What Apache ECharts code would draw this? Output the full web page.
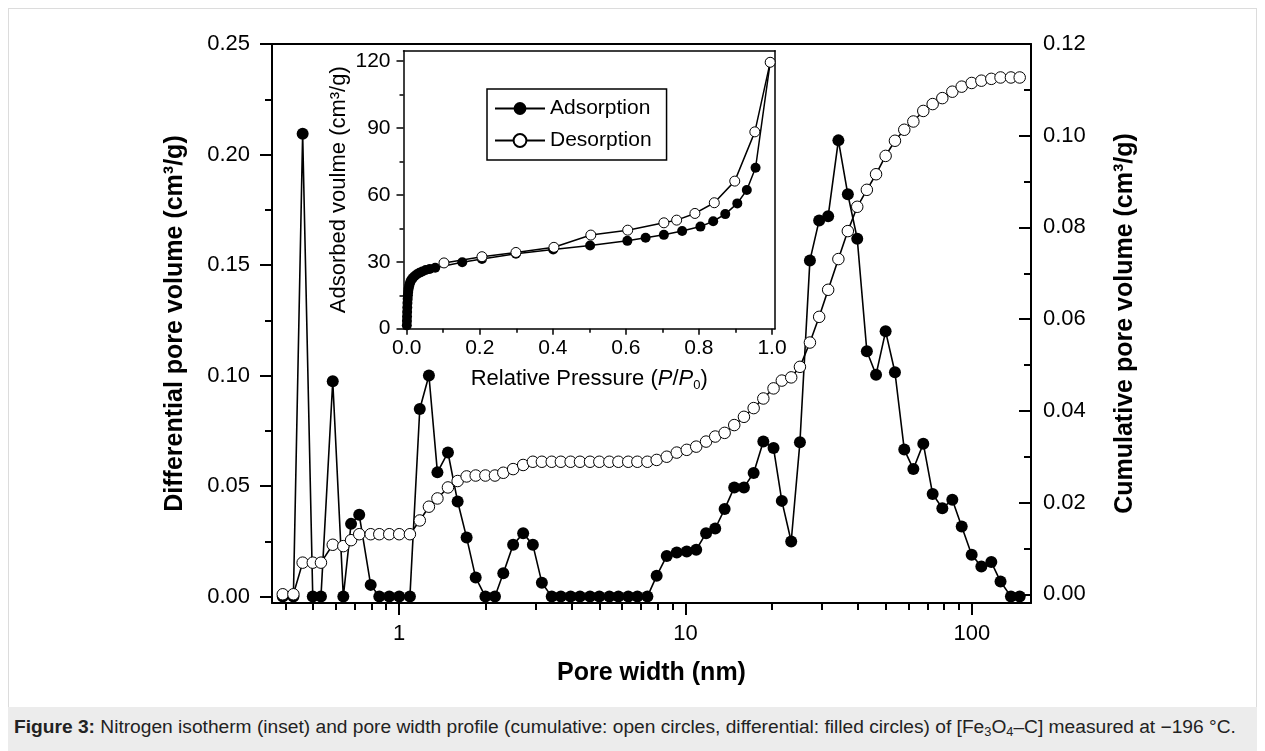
<!DOCTYPE html>
<html><head><meta charset="utf-8">
<script src="https://cdn.jsdelivr.net/npm/echarts@6/dist/echarts.min.js"></script>
<style>
html,body{margin:0;padding:0;background:#fff;width:1265px;height:751px;overflow:hidden;font-family:'Liberation Sans',Arial,sans-serif}
#frame{position:absolute;left:8px;top:8px;width:1249px;height:743px;border:1px solid #dcdcdc;border-bottom:none;box-sizing:border-box}
#band{position:absolute;left:8px;top:707px;width:1249px;height:44px;background:#ececec}
#cap{position:absolute;left:14px;top:717px;font-size:18px;color:#222;white-space:nowrap;transform:scaleX(1.065);transform-origin:0 50%}
#cap sub{font-size:12px;vertical-align:-3px;line-height:0}
#chart{position:absolute;left:0;top:0;width:1265px;height:751px}
</style></head><body>
<div id="frame"></div>
<div id="band"></div>
<div id="cap"><b>Figure 3:</b> Nitrogen isotherm (inset) and pore width profile (cumulative: open circles, differential: filled circles) of [Fe<sub>3</sub>O<sub>4</sub>–C] measured at −196 °C.</div>
<div id="chart"></div>
<script>
// ---- data (pore width in nm) ----
const poreWidth = [0.392,0.427,0.460,0.499,0.533,0.586,0.638,0.679,0.725,0.795,0.852,0.923,1.00,1.09,1.18,1.27,1.36,1.48,1.60,1.72,1.85,2.00,2.16,2.31,2.50,2.71,2.93,3.15,3.41,3.67,3.97,4.28,4.64,5.00,5.42,5.83,6.31,6.79,7.36,7.93,8.60,9.32,10.1,10.9,11.8,12.7,13.7,14.8,16.0,17.3,18.7,20.3,21.7,23.4,25.1,27.2,29.3,31.5,34.2,36.9,39.8,43.0,46.3,50.0,53.9,58.1,62.5,67.7,73.0,78.9,85.5,92.2,99.9,108,117,126,137,147];
const differential = [0,0,0.2094,0,0,0.0974,0,0.0329,0.0370,0.0053,0,0,0,0,0.0849,0.1000,0.0562,0.0652,0.0430,0.0267,0.0086,0,0,0.0106,0.0234,0.0287,0.0234,0.0063,0,0,0,0,0,0,0,0,0,0,0,0.0094,0.0184,0.0199,0.0204,0.0212,0.0287,0.0308,0.0396,0.0494,0.0494,0.0559,0.0702,0.0672,0.0433,0.0249,0.0698,0.1521,0.1702,0.1721,0.2064,0.1820,0.1619,0.1110,0.1004,0.1200,0.1015,0.0665,0.0577,0.0692,0.0464,0.0400,0.0438,0.0317,0.0189,0.0136,0.0156,0.0068,0,0];
const cumulative = [0,0,0.0069,0.0069,0.0069,0.0108,0.0105,0.0118,0.0131,0.0131,0.0131,0.0131,0.0131,0.0131,0.0161,0.0191,0.0209,0.0233,0.0247,0.0257,0.0259,0.0259,0.0259,0.0265,0.0273,0.0282,0.0289,0.0289,0.0289,0.0289,0.0289,0.0289,0.0289,0.0289,0.0289,0.0289,0.0289,0.0289,0.0289,0.0293,0.0300,0.0309,0.0315,0.0322,0.0333,0.0344,0.0352,0.0369,0.0387,0.0406,0.0427,0.0449,0.0466,0.0473,0.0496,0.0549,0.0605,0.0664,0.0731,0.0792,0.0845,0.0882,0.0916,0.0956,0.0989,0.1013,0.1031,0.1054,0.1069,0.1082,0.1096,0.1107,0.1115,0.1120,0.1124,0.1127,0.1127,0.1127];
// inset isotherm
const adsP = [0.0003,0.0006,0.0009,0.0012,0.0016,0.002,0.0026,0.0033,0.004,0.005,0.0065,0.008,0.01,0.013,0.017,0.022,0.028,0.035,0.043,0.052,0.063,0.078,0.152,0.206,0.299,0.401,0.502,0.604,0.654,0.704,0.754,0.804,0.839,0.872,0.905,0.931,0.955,0.995];
const adsV = [1.5,3.5,5.5,7.5,9.5,11.5,13.3,15,16.5,17.8,19,20,21,22,22.8,23.6,24.4,25.1,25.7,26.3,26.8,27.3,29.8,31.3,33.6,35.5,37.3,39.4,40.8,42.1,43.8,45.8,48.2,51.4,56.2,62.2,72.2,119.5];
const desP = [0.995,0.953,0.898,0.842,0.789,0.739,0.704,0.605,0.504,0.403,0.299,0.206,0.102];
const desV = [119.5,88.3,66.2,56.5,51.7,48.7,47.5,44.2,42.0,36.5,34.2,32.3,29.5];
// ticks
const mainXLabels = [1,10,100];
const mainXMinor = [0.4,0.5,0.6,0.7,0.8,0.9,2,3,4,5,6,7,8,9,20,30,40,50,60,70,80,90];
const diffTicks = [0,0.05,0.10,0.15,0.20,0.25];
const diffMinor = [0.025,0.075,0.125,0.175,0.225];
const cumTicks = [0,0.02,0.04,0.06,0.08,0.10,0.12];
const cumMinor = [0.01,0.03,0.05,0.07,0.09,0.11];
const insetXTicks = [0,0.2,0.4,0.6,0.8,1.0];
const insetXMinor = [0.1,0.3,0.5,0.7,0.9];
const insetYTicks = [0,30,60,90,120];
const insetYMinor = [15,45,75,105];

const FONT = "'Liberation Sans', Arial, sans-serif";
const BLACK = '#000';
const logs = a => a.map(v => Math.log10(v));

function ax(o){
  return Object.assign({
    type:'value', splitLine:{show:false},
    axisLine:{show:false, onZero:false},
    axisTick:{show:false}, axisLabel:{show:false}
  }, o);
}
function line(w){ return {show:true, onZero:false, lineStyle:{color:BLACK, width:w}}; }
function tick(vals, len, w, inside){ return {show:true, inside:!!inside, length:len, customValues:vals, lineStyle:{color:BLACK, width:w}}; }
function label(vals, size, margin, fmt){ return {show:true, customValues:vals, fontSize:size, margin:margin, color:BLACK, fontFamily:FONT, formatter:fmt}; }

const chart = echarts.init(document.getElementById('chart'), null, {renderer:'canvas'});
const option = {
  animation:false,
  backgroundColor:'transparent',
  grid:[
    {left:272, top:44, width:759, height:559},
    {left:272, top:44, width:759, height:559},
    {left:403.5, top:50.7, width:371.5, height:278},
    {left:403.5, top:50.7, width:371.5, height:278}
  ],
  xAxis:[
    ax({gridIndex:0, position:'bottom', min:-0.4443, max:2.2068,
      axisLine:line(2), axisTick:tick(logs(mainXLabels),12,2),
      axisLabel:label(logs(mainXLabels),22,20,v=>String(Math.round(Math.pow(10,v)))),
      name:'Pore width (nm)', nameLocation:'middle', nameGap:58,
      nameTextStyle:{fontSize:25, fontWeight:'bold', color:BLACK, fontFamily:FONT}}),
    ax({gridIndex:1, position:'bottom', min:-0.4443, max:2.2068, axisTick:tick(logs(mainXMinor),7,2)}),
    ax({gridIndex:1, position:'top', min:-0.4443, max:2.2068, axisLine:line(2)}),
    ax({gridIndex:2, position:'bottom', min:-0.0088, max:1.0082,
      axisLine:line(1.5), axisTick:tick(insetXTicks,6,1.5),
      axisLabel:label(insetXTicks,21,9,v=>v.toFixed(1)),
      name:'Relative Pressure ({i|P}/{i|P}{s|0})', nameLocation:'middle', nameGap:38,
      nameTextStyle:{fontSize:22, color:BLACK, fontFamily:FONT,
        rich:{i:{fontSize:22, fontStyle:'italic', color:BLACK, fontFamily:FONT},
              s:{fontSize:13, color:BLACK, fontFamily:FONT, padding:[12,0,0,0]}}}}),
    ax({gridIndex:2, position:'top', min:-0.0088, max:1.0082, axisLine:line(1.5)}),
    ax({gridIndex:3, position:'bottom', min:-0.0088, max:1.0082, axisTick:tick(insetXMinor,4,1.5)})
  ],
  yAxis:[
    ax({gridIndex:0, position:'left', min:-0.0029, max:0.25,
      axisLine:line(2), axisTick:tick(diffTicks,12,2),
      axisLabel:label(diffTicks,22,22,v=>v.toFixed(2)),
      name:'Differential pore volume (cm³/g)', nameLocation:'middle', nameGap:84,
      nameTextStyle:{fontSize:25, fontWeight:'bold', color:BLACK, fontFamily:FONT}}),
    ax({gridIndex:0, position:'right', min:-0.0019, max:0.12,
      axisLine:line(2), axisTick:tick(cumTicks,12,2,true),
      axisLabel:label(cumTicks,22,12,v=>v.toFixed(2)),
      name:'Cumulative pore volume (cm³/g)', nameLocation:'middle', nameGap:82,
      nameTextStyle:{fontSize:25, fontWeight:'bold', color:BLACK, fontFamily:FONT}}),
    ax({gridIndex:1, position:'left', min:-0.0029, max:0.25, axisTick:tick(diffMinor,7,2)}),
    ax({gridIndex:1, position:'right', min:-0.0019, max:0.12, axisTick:tick(cumMinor,7,2,true)}),
    ax({gridIndex:2, position:'left', min:0, max:124.7,
      axisLine:line(1.5), axisTick:tick(insetYTicks,7,1.5),
      axisLabel:label(insetYTicks,21,13,v=>String(v)),
      name:'Adsorbed voulme (cm³/g)', nameLocation:'middle', nameGap:54,
      nameTextStyle:{fontSize:22, color:BLACK, fontFamily:FONT}}),
    ax({gridIndex:2, position:'right', min:0, max:124.7, axisLine:line(1.5)}),
    ax({gridIndex:3, position:'left', min:0, max:124.7, axisTick:tick(insetYMinor,4,1.5)})
  ],
  legend:{
    left:487, top:89, orient:'vertical',
    data:['Adsorption','Desorption'],
    borderColor:BLACK, borderWidth:1.5, borderRadius:0,
    padding:[9,15,9,7], itemGap:11, itemWidth:50, itemHeight:16,
    textStyle:{fontSize:21, color:BLACK, fontFamily:FONT},
    selectedMode:false
  },
  series:[
    {name:'Differential', type:'line', xAxisIndex:0, yAxisIndex:0,
      data:poreWidth.map((w,i)=>[Math.log10(w), differential[i]]),
      symbol:'circle', symbolSize:12, showSymbol:true, showAllSymbol:true,
      itemStyle:{color:BLACK, borderColor:BLACK, borderWidth:0},
      lineStyle:{color:BLACK, width:1.6}, z:2},
    {name:'Cumulative', type:'line', xAxisIndex:0, yAxisIndex:1,
      data:poreWidth.map((w,i)=>[Math.log10(w), cumulative[i]]),
      symbol:'circle', symbolSize:11.5, showSymbol:true, showAllSymbol:true,
      itemStyle:{color:'#fff', borderColor:BLACK, borderWidth:1},
      lineStyle:{color:BLACK, width:1.6}, z:3},
    {name:'Adsorption', type:'line', xAxisIndex:3, yAxisIndex:4,
      data:adsP.map((p,i)=>[p, adsV[i]]),
      symbol:'circle', symbolSize:10, showSymbol:true, showAllSymbol:true,
      itemStyle:{color:BLACK, borderColor:BLACK, borderWidth:0},
      lineStyle:{color:BLACK, width:1.5}, z:4},
    {name:'Desorption', type:'line', xAxisIndex:3, yAxisIndex:4,
      data:desP.map((p,i)=>[p, desV[i]]),
      symbol:'circle', symbolSize:10, showSymbol:true, showAllSymbol:true,
      itemStyle:{color:'#fff', borderColor:BLACK, borderWidth:1},
      lineStyle:{color:BLACK, width:1.5}, z:5}
  ]
};
chart.setOption(option);
</script>
</body></html>
